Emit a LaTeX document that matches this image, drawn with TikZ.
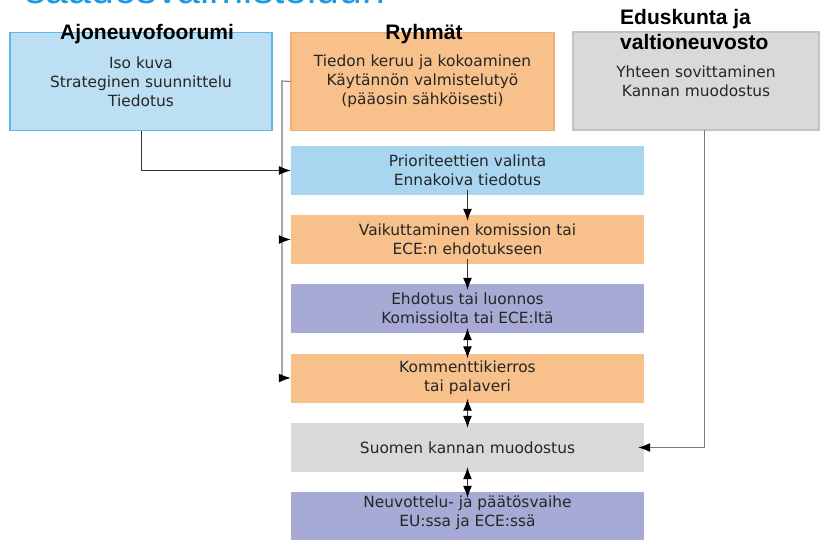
\documentclass[tikz,border=0pt]{standalone}
\usepackage{fontspec}
\setmainfont{DejaVu Sans}
\newfontfamily\titlefont{Liberation Sans}
\usetikzlibrary{arrows.meta}
\definecolor{txt}{HTML}{262626}
\definecolor{bluefillA}{HTML}{BDDFF3}
\definecolor{blueline}{HTML}{5CB8E6}
\definecolor{bluefillB}{HTML}{A8D5EF}
\definecolor{orangefill}{HTML}{F8C08A}
\definecolor{orangeline}{HTML}{F2AE6E}
\definecolor{purplefill}{HTML}{A6AAD4}
\definecolor{grayfill}{HTML}{D9D9D9}
\definecolor{grayline}{HTML}{C4C4C4}
\definecolor{headblue}{HTML}{1E9BE0}
\definecolor{connA}{HTML}{333333}
\definecolor{connB}{HTML}{7A7A7A}
\begin{document}
\begin{tikzpicture}[x=1pt,y=1pt,
  box/.style={rectangle, inner sep=0pt, align=center, text=txt,
    font=\fontsize{15.4}{19}\selectfont},
  topbox/.style={box, minimum height=98pt, line width=1.2pt},
  midbox/.style={box, minimum width=353pt, minimum height=49pt},
  ttl/.style={font=\titlefont\bfseries\fontsize{21}{25}\selectfont, text=black, inner sep=0pt},
  tip/.tip={Latex[length=12pt,width=9pt,color=black]},
  arr/.style={-tip, line width=1pt, draw=connA},
  darr/.style={tip-tip, line width=1pt, draw=connA},
  lineB/.style={line width=1.1pt, draw=connB}]
\useasboundingbox (0,0) rectangle (825,539);
\begin{scope}
\clip (0,0) rectangle (825,539);
% clipped heading
\node[anchor=base west, inner sep=0pt, text=headblue,
  font=\titlefont\fontsize{41}{45}\selectfont] (head) at (25,535) {säädösvalmisteluun};

% top boxes
\node[topbox, minimum width=262pt, fill=bluefillA, draw=blueline] (foorum) at (141,457.5)
  {Iso kuva\\Strateginen suunnittelu\\Tiedotus};
\node[topbox, minimum width=263pt, fill=orangefill, draw=orangeline] (ryhmat) at (422.5,457.5)
  {Tiedon keruu ja kokoaminen\\Käytännön valmistelutyö\\(pääosin sähköisesti)};
\node[topbox, minimum width=246pt, fill=grayfill, draw=grayline] (edus) at (696,458)
  {Yhteen sovittaminen\\Kannan muodostus};

% titles
\node[ttl, anchor=base] (tfoorum) at (147,499) {Ajoneuvofoorumi};
\node[ttl, anchor=base] (tryhmat) at (424,499) {Ryhmät};
\node[ttl, anchor=base west] (tedus1) at (620,514) {Eduskunta ja};
\node[ttl, anchor=base west] (tedus2) at (620,489) {valtioneuvosto};

% middle column
\node[midbox, fill=bluefillB] (prio) at (467.5,368.5) {Prioriteettien valinta\\Ennakoiva tiedotus};
\node[midbox, fill=orangefill] (vaik) at (467.5,299.5) {Vaikuttaminen komission tai\\ECE:n ehdotukseen};
\node[midbox, fill=purplefill] (ehd) at (467.5,230.5) {Ehdotus tai luonnos\\Komissiolta tai ECE:ltä};
\node[midbox, fill=orangefill] (komm) at (467.5,161) {Kommenttikierros\\tai palaveri};
\node[midbox, fill=grayfill] (suomi) at (467.5,91.5) {Suomen kannan muodostus};
\node[midbox, minimum height=58pt, fill=purplefill] (neuv) at (467.5,18) {};
\node[box] (neuvtext) at (467.5,26) {Neuvottelu- ja päätösvaihe\\EU:ssa ja ECE:ssä};

% connectors
\coordinate (rj) at (282,458);
\draw[lineB] (ryhmat.west) -- (rj) -- (rj |- komm.west);
\draw[arr, draw=connB] (rj |- vaik.west) -- (vaik.west);
\draw[arr, draw=connB] (rj |- komm.west) -- (komm.west);
\draw[arr] (foorum.south) |- (prio.west);
\coordinate (ej) at (704,409);
\draw[arr, draw=connB] (ej) |- ([xshift=-6pt]suomi.east);

\draw[arr] ([yshift=5pt]prio.south) -- ([yshift=-6pt]vaik.north);
\draw[arr] ([yshift=5pt]vaik.south) -- ([yshift=-6pt]ehd.north);
\draw[darr] ([yshift=5pt]ehd.south) -- ([yshift=-5pt]komm.north);
\draw[darr] ([yshift=4pt]komm.south) -- ([yshift=-5pt]suomi.north);
\draw[darr] ([yshift=5pt]suomi.south) -- ([yshift=-6pt]neuv.north);
\end{scope}
\end{tikzpicture}
\end{document}
